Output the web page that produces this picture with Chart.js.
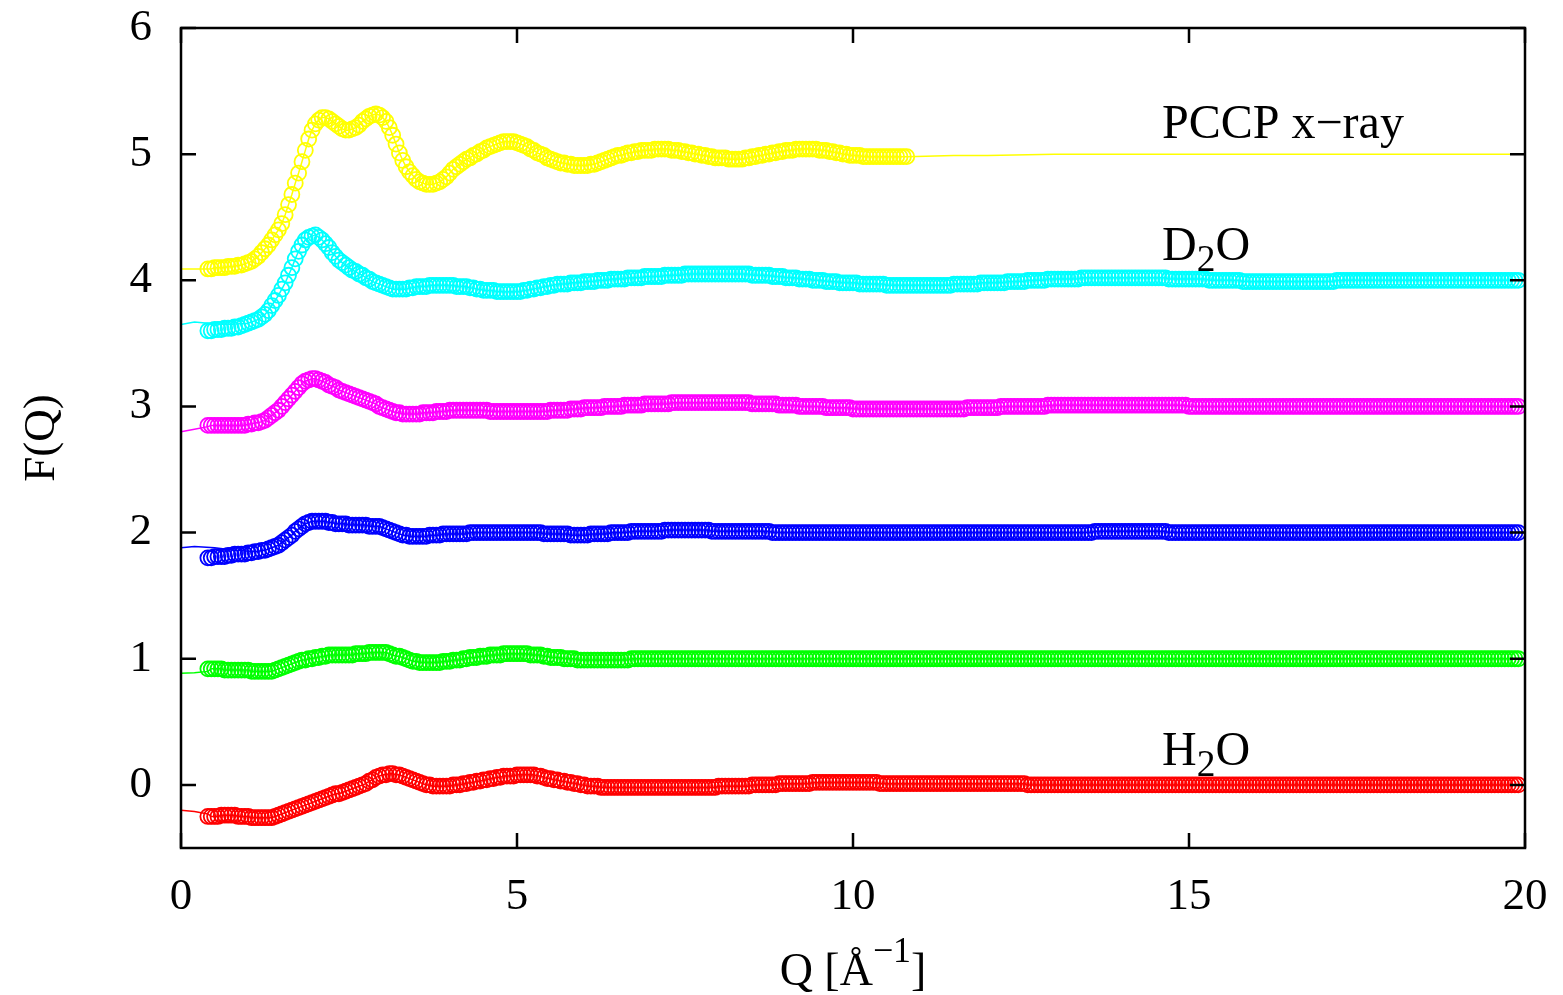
<!DOCTYPE html>
<html>
<head>
<meta charset="utf-8">
<title>F(Q)</title>
<script src="https://cdn.jsdelivr.net/npm/chart.js@4.4.1/dist/chart.umd.min.js"></script>
<style>
  html, body { margin: 0; padding: 0; background: #fff; }
  #wrap { width: 1563px; height: 995px; position: relative; }
</style>
</head>
<body>
<div id="wrap"><canvas id="fq"></canvas></div>
<script>
// Q grid of the measured points [1/Angstrom], step 0.05
const qGrid = [
  0.40, 0.45, 0.50, 0.55, 0.60, 0.65, 0.70, 0.75, 0.80, 0.85, 0.90, 0.95, 1.00, 1.05, 1.10, 1.15, 1.20, 1.25, 1.30, 1.35,
  1.40, 1.45, 1.50, 1.55, 1.60, 1.65, 1.70, 1.75, 1.80, 1.85, 1.90, 1.95, 2.00, 2.05, 2.10, 2.15, 2.20, 2.25, 2.30, 2.35,
  2.40, 2.45, 2.50, 2.55, 2.60, 2.65, 2.70, 2.75, 2.80, 2.85, 2.90, 2.95, 3.00, 3.05, 3.10, 3.15, 3.20, 3.25, 3.30, 3.35,
  3.40, 3.45, 3.50, 3.55, 3.60, 3.65, 3.70, 3.75, 3.80, 3.85, 3.90, 3.95, 4.00, 4.05, 4.10, 4.15, 4.20, 4.25, 4.30, 4.35,
  4.40, 4.45, 4.50, 4.55, 4.60, 4.65, 4.70, 4.75, 4.80, 4.85, 4.90, 4.95, 5.00, 5.05, 5.10, 5.15, 5.20, 5.25, 5.30, 5.35,
  5.40, 5.45, 5.50, 5.55, 5.60, 5.65, 5.70, 5.75, 5.80, 5.85, 5.90, 5.95, 6.00, 6.05, 6.10, 6.15, 6.20, 6.25, 6.30, 6.35,
  6.40, 6.45, 6.50, 6.55, 6.60, 6.65, 6.70, 6.75, 6.80, 6.85, 6.90, 6.95, 7.00, 7.05, 7.10, 7.15, 7.20, 7.25, 7.30, 7.35,
  7.40, 7.45, 7.50, 7.55, 7.60, 7.65, 7.70, 7.75, 7.80, 7.85, 7.90, 7.95, 8.00, 8.05, 8.10, 8.15, 8.20, 8.25, 8.30, 8.35,
  8.40, 8.45, 8.50, 8.55, 8.60, 8.65, 8.70, 8.75, 8.80, 8.85, 8.90, 8.95, 9.00, 9.05, 9.10, 9.15, 9.20, 9.25, 9.30, 9.35,
  9.40, 9.45, 9.50, 9.55, 9.60, 9.65, 9.70, 9.75, 9.80, 9.85, 9.90, 9.95, 10.00, 10.05, 10.10, 10.15, 10.20, 10.25, 10.30, 10.35,
  10.40, 10.45, 10.50, 10.55, 10.60, 10.65, 10.70, 10.75, 10.80, 10.85, 10.90, 10.95, 11.00, 11.05, 11.10, 11.15, 11.20, 11.25, 11.30, 11.35,
  11.40, 11.45, 11.50, 11.55, 11.60, 11.65, 11.70, 11.75, 11.80, 11.85, 11.90, 11.95, 12.00, 12.05, 12.10, 12.15, 12.20, 12.25, 12.30, 12.35,
  12.40, 12.45, 12.50, 12.55, 12.60, 12.65, 12.70, 12.75, 12.80, 12.85, 12.90, 12.95, 13.00, 13.05, 13.10, 13.15, 13.20, 13.25, 13.30, 13.35,
  13.40, 13.45, 13.50, 13.55, 13.60, 13.65, 13.70, 13.75, 13.80, 13.85, 13.90, 13.95, 14.00, 14.05, 14.10, 14.15, 14.20, 14.25, 14.30, 14.35,
  14.40, 14.45, 14.50, 14.55, 14.60, 14.65, 14.70, 14.75, 14.80, 14.85, 14.90, 14.95, 15.00, 15.05, 15.10, 15.15, 15.20, 15.25, 15.30, 15.35,
  15.40, 15.45, 15.50, 15.55, 15.60, 15.65, 15.70, 15.75, 15.80, 15.85, 15.90, 15.95, 16.00, 16.05, 16.10, 16.15, 16.20, 16.25, 16.30, 16.35,
  16.40, 16.45, 16.50, 16.55, 16.60, 16.65, 16.70, 16.75, 16.80, 16.85, 16.90, 16.95, 17.00, 17.05, 17.10, 17.15, 17.20, 17.25, 17.30, 17.35,
  17.40, 17.45, 17.50, 17.55, 17.60, 17.65, 17.70, 17.75, 17.80, 17.85, 17.90, 17.95, 18.00, 18.05, 18.10, 18.15, 18.20, 18.25, 18.30, 18.35,
  18.40, 18.45, 18.50, 18.55, 18.60, 18.65, 18.70, 18.75, 18.80, 18.85, 18.90, 18.95, 19.00, 19.05, 19.10, 19.15, 19.20, 19.25, 19.30, 19.35,
  19.40, 19.45, 19.50, 19.55, 19.60, 19.65, 19.70, 19.75, 19.80, 19.85, 19.90
];

// PCCP x-ray data (offset +4), stops at Q = 10.8
const fXray = [
  4.09, 4.09, 4.10, 4.10, 4.10, 4.10, 4.11, 4.11, 4.11, 4.12, 4.12, 4.13, 4.14, 4.15, 4.17, 4.19, 4.22, 4.25, 4.28, 4.32,
  4.36, 4.40, 4.45, 4.52, 4.60, 4.68, 4.77, 4.85, 4.94, 5.03, 5.12, 5.19, 5.24, 5.27, 5.29, 5.29, 5.28, 5.26, 5.24, 5.22,
  5.20, 5.19, 5.19, 5.20, 5.21, 5.23, 5.26, 5.28, 5.30, 5.31, 5.32, 5.31, 5.29, 5.26, 5.21, 5.15, 5.08, 5.01, 4.95, 4.90,
  4.86, 4.83, 4.80, 4.78, 4.77, 4.76, 4.76, 4.76, 4.77, 4.78, 4.80, 4.82, 4.85, 4.88, 4.90, 4.92, 4.94, 4.96, 4.97, 4.99,
  5.00, 5.02, 5.03, 5.05, 5.06, 5.07, 5.08, 5.09, 5.10, 5.10, 5.10, 5.10, 5.09, 5.08, 5.07, 5.06, 5.04, 5.03, 5.01, 5.00,
  4.99, 4.97, 4.96, 4.95, 4.94, 4.93, 4.93, 4.92, 4.92, 4.91, 4.91, 4.91, 4.91, 4.91, 4.92, 4.92, 4.93, 4.94, 4.95, 4.96,
  4.97, 4.98, 4.99, 4.99, 5.00, 5.01, 5.01, 5.02, 5.02, 5.03, 5.03, 5.03, 5.03, 5.04, 5.04, 5.04, 5.04, 5.04, 5.03, 5.03,
  5.03, 5.02, 5.02, 5.01, 5.01, 5.00, 5.00, 4.99, 4.99, 4.98, 4.98, 4.97, 4.97, 4.97, 4.97, 4.96, 4.96, 4.96, 4.96, 4.96,
  4.97, 4.97, 4.98, 4.98, 4.99, 4.99, 5.00, 5.00, 5.01, 5.01, 5.02, 5.02, 5.03, 5.03, 5.03, 5.04, 5.04, 5.04, 5.04, 5.04,
  5.04, 5.04, 5.03, 5.03, 5.03, 5.02, 5.02, 5.01, 5.01, 5.00, 5.00, 4.99, 4.99, 4.99, 4.99, 4.98, 4.98, 4.98, 4.98, 4.98,
  4.98, 4.98, 4.98, 4.98, 4.98, 4.98, 4.98, 4.98, 4.98
];

// D2O (offset +4)
const fD2O = [
  3.60, 3.60, 3.61, 3.61, 3.61, 3.62, 3.62, 3.62, 3.63, 3.63, 3.64, 3.65, 3.66, 3.67, 3.68, 3.69, 3.71, 3.73, 3.76, 3.80,
  3.84, 3.88, 3.93, 3.98, 4.04, 4.10, 4.17, 4.23, 4.28, 4.32, 4.34, 4.35, 4.36, 4.34, 4.32, 4.29, 4.26, 4.22, 4.19, 4.16,
  4.14, 4.12, 4.10, 4.08, 4.07, 4.05, 4.04, 4.02, 4.01, 3.99, 3.98, 3.97, 3.96, 3.95, 3.94, 3.93, 3.93, 3.93, 3.93, 3.93,
  3.94, 3.94, 3.95, 3.95, 3.95, 3.95, 3.96, 3.96, 3.96, 3.96, 3.96, 3.96, 3.96, 3.96, 3.95, 3.95, 3.95, 3.95, 3.94, 3.94,
  3.93, 3.93, 3.92, 3.92, 3.92, 3.92, 3.91, 3.91, 3.91, 3.91, 3.91, 3.91, 3.91, 3.91, 3.92, 3.92, 3.93, 3.93, 3.94, 3.94,
  3.95, 3.95, 3.96, 3.96, 3.97, 3.97, 3.97, 3.97, 3.98, 3.98, 3.98, 3.98, 3.99, 3.99, 3.99, 3.99, 4.00, 4.00, 4.00, 4.00,
  4.01, 4.01, 4.01, 4.01, 4.01, 4.02, 4.02, 4.02, 4.02, 4.02, 4.03, 4.03, 4.03, 4.03, 4.03, 4.03, 4.04, 4.04, 4.04, 4.04,
  4.04, 4.04, 4.05, 4.05, 4.05, 4.05, 4.05, 4.05, 4.05, 4.05, 4.05, 4.05, 4.05, 4.05, 4.05, 4.05, 4.05, 4.05, 4.05, 4.05,
  4.05, 4.05, 4.04, 4.04, 4.04, 4.04, 4.04, 4.04, 4.03, 4.03, 4.03, 4.03, 4.02, 4.02, 4.02, 4.02, 4.01, 4.01, 4.01, 4.01,
  4.00, 4.00, 4.00, 4.00, 3.99, 3.99, 3.99, 3.99, 3.98, 3.98, 3.98, 3.98, 3.98, 3.98, 3.97, 3.97, 3.97, 3.97, 3.97, 3.97,
  3.97, 3.97, 3.96, 3.96, 3.96, 3.96, 3.96, 3.96, 3.96, 3.96, 3.96, 3.96, 3.96, 3.96, 3.96, 3.96, 3.96, 3.96, 3.96, 3.96,
  3.96, 3.96, 3.97, 3.97, 3.97, 3.97, 3.97, 3.97, 3.97, 3.97, 3.98, 3.98, 3.98, 3.98, 3.98, 3.98, 3.98, 3.98, 3.99, 3.99,
  3.99, 3.99, 3.99, 3.99, 4.00, 4.00, 4.00, 4.00, 4.00, 4.00, 4.01, 4.01, 4.01, 4.01, 4.01, 4.01, 4.01, 4.01, 4.01, 4.01,
  4.02, 4.02, 4.02, 4.02, 4.02, 4.02, 4.02, 4.02, 4.02, 4.02, 4.02, 4.02, 4.02, 4.02, 4.02, 4.02, 4.02, 4.02, 4.02, 4.02,
  4.02, 4.02, 4.02, 4.02, 4.02, 4.02, 4.01, 4.01, 4.01, 4.01, 4.01, 4.01, 4.01, 4.01, 4.01, 4.01, 4.01, 4.01, 4.00, 4.00,
  4.00, 4.00, 4.00, 4.00, 4.00, 4.00, 4.00, 4.00, 3.99, 3.99, 3.99, 3.99, 3.99, 3.99, 3.99, 3.99, 3.99, 3.99, 3.99, 3.99,
  3.99, 3.99, 3.99, 3.99, 3.99, 3.99, 3.99, 3.99, 3.99, 3.99, 3.99, 3.99, 3.99, 3.99, 3.99, 3.99, 4.00, 4.00, 4.00, 4.00,
  4.00, 4.00, 4.00, 4.00, 4.00, 4.00, 4.00, 4.00, 4.00, 4.00, 4.00, 4.00, 4.00, 4.00, 4.00, 4.00, 4.00, 4.00, 4.00, 4.00,
  4.00, 4.00, 4.00, 4.00, 4.00, 4.00, 4.00, 4.00, 4.00, 4.00, 4.00, 4.00, 4.00, 4.00, 4.00, 4.00, 4.00, 4.00, 4.00, 4.00,
  4.00, 4.00, 4.00, 4.00, 4.00, 4.00, 4.00, 4.00, 4.00, 4.00, 4.00
];

// mixture, offset +3
const fMix3 = [
  2.85, 2.85, 2.85, 2.85, 2.85, 2.85, 2.85, 2.85, 2.85, 2.85, 2.85, 2.85, 2.86, 2.86, 2.87, 2.87, 2.88, 2.89, 2.91, 2.93,
  2.95, 2.97, 3.00, 3.03, 3.06, 3.09, 3.12, 3.15, 3.18, 3.20, 3.21, 3.22, 3.22, 3.21, 3.20, 3.19, 3.17, 3.16, 3.15, 3.13,
  3.12, 3.11, 3.10, 3.09, 3.08, 3.07, 3.06, 3.05, 3.04, 3.03, 3.02, 3.00, 2.99, 2.98, 2.97, 2.96, 2.95, 2.95, 2.94, 2.94,
  2.94, 2.94, 2.94, 2.94, 2.95, 2.95, 2.95, 2.95, 2.96, 2.96, 2.96, 2.96, 2.97, 2.97, 2.97, 2.97, 2.97, 2.97, 2.97, 2.97,
  2.97, 2.97, 2.97, 2.97, 2.96, 2.96, 2.96, 2.96, 2.96, 2.96, 2.96, 2.96, 2.96, 2.96, 2.96, 2.96, 2.96, 2.96, 2.96, 2.96,
  2.96, 2.96, 2.97, 2.97, 2.97, 2.97, 2.97, 2.97, 2.98, 2.98, 2.98, 2.98, 2.99, 2.99, 2.99, 2.99, 2.99, 2.99, 3.00, 3.00,
  3.00, 3.00, 3.00, 3.00, 3.01, 3.01, 3.01, 3.01, 3.01, 3.01, 3.02, 3.02, 3.02, 3.02, 3.02, 3.02, 3.02, 3.02, 3.03, 3.03,
  3.03, 3.03, 3.03, 3.03, 3.03, 3.03, 3.03, 3.03, 3.03, 3.03, 3.03, 3.03, 3.03, 3.03, 3.03, 3.03, 3.03, 3.03, 3.03, 3.03,
  3.03, 3.03, 3.02, 3.02, 3.02, 3.02, 3.02, 3.02, 3.02, 3.02, 3.01, 3.01, 3.01, 3.01, 3.01, 3.01, 3.00, 3.00, 3.00, 3.00,
  3.00, 3.00, 3.00, 3.00, 2.99, 2.99, 2.99, 2.99, 2.99, 2.99, 2.99, 2.99, 2.98, 2.98, 2.98, 2.98, 2.98, 2.98, 2.98, 2.98,
  2.98, 2.98, 2.98, 2.98, 2.98, 2.98, 2.98, 2.98, 2.98, 2.98, 2.98, 2.98, 2.98, 2.98, 2.98, 2.98, 2.98, 2.98, 2.98, 2.98,
  2.98, 2.98, 2.98, 2.98, 2.98, 2.98, 2.99, 2.99, 2.99, 2.99, 2.99, 2.99, 2.99, 2.99, 2.99, 2.99, 3.00, 3.00, 3.00, 3.00,
  3.00, 3.00, 3.00, 3.00, 3.00, 3.00, 3.00, 3.00, 3.00, 3.00, 3.01, 3.01, 3.01, 3.01, 3.01, 3.01, 3.01, 3.01, 3.01, 3.01,
  3.01, 3.01, 3.01, 3.01, 3.01, 3.01, 3.01, 3.01, 3.01, 3.01, 3.01, 3.01, 3.01, 3.01, 3.01, 3.01, 3.01, 3.01, 3.01, 3.01,
  3.01, 3.01, 3.01, 3.01, 3.01, 3.01, 3.01, 3.01, 3.01, 3.01, 3.01, 3.01, 3.00, 3.00, 3.00, 3.00, 3.00, 3.00, 3.00, 3.00,
  3.00, 3.00, 3.00, 3.00, 3.00, 3.00, 3.00, 3.00, 3.00, 3.00, 3.00, 3.00, 3.00, 3.00, 3.00, 3.00, 3.00, 3.00, 3.00, 3.00,
  3.00, 3.00, 3.00, 3.00, 3.00, 3.00, 3.00, 3.00, 3.00, 3.00, 3.00, 3.00, 3.00, 3.00, 3.00, 3.00, 3.00, 3.00, 3.00, 3.00,
  3.00, 3.00, 3.00, 3.00, 3.00, 3.00, 3.00, 3.00, 3.00, 3.00, 3.00, 3.00, 3.00, 3.00, 3.00, 3.00, 3.00, 3.00, 3.00, 3.00,
  3.00, 3.00, 3.00, 3.00, 3.00, 3.00, 3.00, 3.00, 3.00, 3.00, 3.00, 3.00, 3.00, 3.00, 3.00, 3.00, 3.00, 3.00, 3.00, 3.00,
  3.00, 3.00, 3.00, 3.00, 3.00, 3.00, 3.00, 3.00, 3.00, 3.00, 3.00
];

// mixture, offset +2
const fMix2 = [
  1.80, 1.80, 1.81, 1.81, 1.81, 1.81, 1.82, 1.82, 1.83, 1.83, 1.83, 1.83, 1.84, 1.84, 1.85, 1.85, 1.86, 1.86, 1.87, 1.88,
  1.89, 1.90, 1.92, 1.94, 1.96, 1.98, 2.01, 2.03, 2.05, 2.07, 2.08, 2.09, 2.09, 2.09, 2.09, 2.09, 2.08, 2.08, 2.07, 2.07,
  2.07, 2.07, 2.06, 2.06, 2.06, 2.06, 2.06, 2.06, 2.05, 2.05, 2.05, 2.05, 2.04, 2.03, 2.02, 2.01, 2.00, 1.99, 1.98, 1.98,
  1.97, 1.97, 1.97, 1.97, 1.97, 1.97, 1.98, 1.98, 1.98, 1.98, 1.99, 1.99, 1.99, 1.99, 1.99, 1.99, 1.99, 1.99, 2.00, 2.00,
  2.00, 2.00, 2.00, 2.00, 2.00, 2.00, 2.00, 2.00, 2.00, 2.00, 2.00, 2.00, 2.00, 2.00, 2.00, 2.00, 2.00, 2.00, 2.00, 2.00,
  1.99, 1.99, 1.99, 1.99, 1.99, 1.99, 1.99, 1.99, 1.98, 1.98, 1.98, 1.98, 1.98, 1.98, 1.99, 1.99, 1.99, 1.99, 1.99, 1.99,
  2.00, 2.00, 2.00, 2.00, 2.00, 2.00, 2.01, 2.01, 2.01, 2.01, 2.01, 2.01, 2.01, 2.01, 2.01, 2.01, 2.02, 2.02, 2.02, 2.02,
  2.02, 2.02, 2.02, 2.02, 2.02, 2.02, 2.02, 2.02, 2.02, 2.02, 2.01, 2.01, 2.01, 2.01, 2.01, 2.01, 2.01, 2.01, 2.01, 2.01,
  2.01, 2.01, 2.01, 2.01, 2.01, 2.01, 2.01, 2.01, 2.00, 2.00, 2.00, 2.00, 2.00, 2.00, 2.00, 2.00, 2.00, 2.00, 2.00, 2.00,
  2.00, 2.00, 2.00, 2.00, 2.00, 2.00, 2.00, 2.00, 2.00, 2.00, 2.00, 2.00, 2.00, 2.00, 2.00, 2.00, 2.00, 2.00, 2.00, 2.00,
  2.00, 2.00, 2.00, 2.00, 2.00, 2.00, 2.00, 2.00, 2.00, 2.00, 2.00, 2.00, 2.00, 2.00, 2.00, 2.00, 2.00, 2.00, 2.00, 2.00,
  2.00, 2.00, 2.00, 2.00, 2.00, 2.00, 2.00, 2.00, 2.00, 2.00, 2.00, 2.00, 2.00, 2.00, 2.00, 2.00, 2.00, 2.00, 2.00, 2.00,
  2.00, 2.00, 2.00, 2.00, 2.00, 2.00, 2.00, 2.00, 2.00, 2.00, 2.00, 2.00, 2.00, 2.00, 2.00, 2.00, 2.00, 2.00, 2.00, 2.00,
  2.00, 2.00, 2.00, 2.00, 2.01, 2.01, 2.01, 2.01, 2.01, 2.01, 2.01, 2.01, 2.01, 2.01, 2.01, 2.01, 2.01, 2.01, 2.01, 2.01,
  2.01, 2.01, 2.01, 2.01, 2.01, 2.01, 2.00, 2.00, 2.00, 2.00, 2.00, 2.00, 2.00, 2.00, 2.00, 2.00, 2.00, 2.00, 2.00, 2.00,
  2.00, 2.00, 2.00, 2.00, 2.00, 2.00, 2.00, 2.00, 2.00, 2.00, 2.00, 2.00, 2.00, 2.00, 2.00, 2.00, 2.00, 2.00, 2.00, 2.00,
  2.00, 2.00, 2.00, 2.00, 2.00, 2.00, 2.00, 2.00, 2.00, 2.00, 2.00, 2.00, 2.00, 2.00, 2.00, 2.00, 2.00, 2.00, 2.00, 2.00,
  2.00, 2.00, 2.00, 2.00, 2.00, 2.00, 2.00, 2.00, 2.00, 2.00, 2.00, 2.00, 2.00, 2.00, 2.00, 2.00, 2.00, 2.00, 2.00, 2.00,
  2.00, 2.00, 2.00, 2.00, 2.00, 2.00, 2.00, 2.00, 2.00, 2.00, 2.00, 2.00, 2.00, 2.00, 2.00, 2.00, 2.00, 2.00, 2.00, 2.00,
  2.00, 2.00, 2.00, 2.00, 2.00, 2.00, 2.00, 2.00, 2.00, 2.00, 2.00
];

// mixture, offset +1
const fMix1 = [
  0.92, 0.92, 0.92, 0.92, 0.92, 0.91, 0.91, 0.91, 0.91, 0.91, 0.91, 0.91, 0.91, 0.90, 0.90, 0.90, 0.90, 0.90, 0.90, 0.90,
  0.91, 0.92, 0.93, 0.94, 0.95, 0.96, 0.97, 0.98, 0.99, 0.99, 1.00, 1.00, 1.01, 1.01, 1.02, 1.02, 1.03, 1.03, 1.03, 1.03,
  1.03, 1.03, 1.03, 1.03, 1.04, 1.04, 1.04, 1.04, 1.05, 1.05, 1.05, 1.05, 1.05, 1.05, 1.04, 1.03, 1.02, 1.02, 1.01, 1.00,
  0.99, 0.98, 0.98, 0.97, 0.97, 0.97, 0.97, 0.97, 0.97, 0.97, 0.98, 0.98, 0.98, 0.99, 0.99, 0.99, 1.00, 1.00, 1.01, 1.01,
  1.01, 1.02, 1.02, 1.02, 1.03, 1.03, 1.03, 1.03, 1.04, 1.04, 1.04, 1.04, 1.04, 1.04, 1.04, 1.04, 1.03, 1.03, 1.03, 1.03,
  1.02, 1.02, 1.01, 1.01, 1.01, 1.01, 1.00, 1.00, 1.00, 1.00, 0.99, 0.99, 0.99, 0.99, 0.99, 0.99, 0.99, 0.99, 0.99, 0.99,
  0.99, 0.99, 0.99, 0.99, 0.99, 0.99, 1.00, 1.00, 1.00, 1.00, 1.00, 1.00, 1.00, 1.00, 1.00, 1.00, 1.00, 1.00, 1.00, 1.00,
  1.00, 1.00, 1.00, 1.00, 1.00, 1.00, 1.00, 1.00, 1.00, 1.00, 1.00, 1.00, 1.00, 1.00, 1.00, 1.00, 1.00, 1.00, 1.00, 1.00,
  1.00, 1.00, 1.00, 1.00, 1.00, 1.00, 1.00, 1.00, 1.00, 1.00, 1.00, 1.00, 1.00, 1.00, 1.00, 1.00, 1.00, 1.00, 1.00, 1.00,
  1.00, 1.00, 1.00, 1.00, 1.00, 1.00, 1.00, 1.00, 1.00, 1.00, 1.00, 1.00, 1.00, 1.00, 1.00, 1.00, 1.00, 1.00, 1.00, 1.00,
  1.00, 1.00, 1.00, 1.00, 1.00, 1.00, 1.00, 1.00, 1.00, 1.00, 1.00, 1.00, 1.00, 1.00, 1.00, 1.00, 1.00, 1.00, 1.00, 1.00,
  1.00, 1.00, 1.00, 1.00, 1.00, 1.00, 1.00, 1.00, 1.00, 1.00, 1.00, 1.00, 1.00, 1.00, 1.00, 1.00, 1.00, 1.00, 1.00, 1.00,
  1.00, 1.00, 1.00, 1.00, 1.00, 1.00, 1.00, 1.00, 1.00, 1.00, 1.00, 1.00, 1.00, 1.00, 1.00, 1.00, 1.00, 1.00, 1.00, 1.00,
  1.00, 1.00, 1.00, 1.00, 1.00, 1.00, 1.00, 1.00, 1.00, 1.00, 1.00, 1.00, 1.00, 1.00, 1.00, 1.00, 1.00, 1.00, 1.00, 1.00,
  1.00, 1.00, 1.00, 1.00, 1.00, 1.00, 1.00, 1.00, 1.00, 1.00, 1.00, 1.00, 1.00, 1.00, 1.00, 1.00, 1.00, 1.00, 1.00, 1.00,
  1.00, 1.00, 1.00, 1.00, 1.00, 1.00, 1.00, 1.00, 1.00, 1.00, 1.00, 1.00, 1.00, 1.00, 1.00, 1.00, 1.00, 1.00, 1.00, 1.00,
  1.00, 1.00, 1.00, 1.00, 1.00, 1.00, 1.00, 1.00, 1.00, 1.00, 1.00, 1.00, 1.00, 1.00, 1.00, 1.00, 1.00, 1.00, 1.00, 1.00,
  1.00, 1.00, 1.00, 1.00, 1.00, 1.00, 1.00, 1.00, 1.00, 1.00, 1.00, 1.00, 1.00, 1.00, 1.00, 1.00, 1.00, 1.00, 1.00, 1.00,
  1.00, 1.00, 1.00, 1.00, 1.00, 1.00, 1.00, 1.00, 1.00, 1.00, 1.00, 1.00, 1.00, 1.00, 1.00, 1.00, 1.00, 1.00, 1.00, 1.00,
  1.00, 1.00, 1.00, 1.00, 1.00, 1.00, 1.00, 1.00, 1.00, 1.00, 1.00
];

// H2O, no offset
const fH2O = [
  -0.25, -0.25, -0.25, -0.25, -0.24, -0.24, -0.24, -0.24, -0.24, -0.25, -0.25, -0.25, -0.25, -0.26, -0.26, -0.26, -0.26, -0.26, -0.26, -0.26,
  -0.25, -0.24, -0.23, -0.22, -0.21, -0.20, -0.19, -0.18, -0.17, -0.16, -0.15, -0.14, -0.13, -0.12, -0.11, -0.10, -0.09, -0.08, -0.07, -0.07,
  -0.06, -0.05, -0.04, -0.03, -0.02, -0.01, 0.00, 0.01, 0.03, 0.04, 0.06, 0.07, 0.08, 0.08, 0.09, 0.09, 0.08, 0.08, 0.07, 0.06,
  0.05, 0.04, 0.03, 0.02, 0.01, 0.00, 0.00, -0.01, -0.01, -0.01, -0.01, -0.01, -0.01, 0.00, 0.00, 0.00, 0.01, 0.01, 0.02, 0.02,
  0.03, 0.03, 0.04, 0.04, 0.05, 0.05, 0.06, 0.06, 0.07, 0.07, 0.07, 0.07, 0.08, 0.08, 0.08, 0.08, 0.08, 0.08, 0.07, 0.07,
  0.06, 0.05, 0.05, 0.04, 0.04, 0.03, 0.03, 0.02, 0.02, 0.01, 0.01, 0.00, 0.00, -0.01, -0.01, -0.01, -0.01, -0.02, -0.02, -0.02,
  -0.02, -0.02, -0.02, -0.02, -0.02, -0.02, -0.02, -0.02, -0.02, -0.02, -0.02, -0.02, -0.02, -0.02, -0.02, -0.02, -0.02, -0.02, -0.02, -0.02,
  -0.02, -0.02, -0.02, -0.02, -0.02, -0.02, -0.02, -0.02, -0.02, -0.02, -0.02, -0.02, -0.01, -0.01, -0.01, -0.01, -0.01, -0.01, -0.01, -0.01,
  -0.01, -0.01, 0.00, 0.00, 0.00, 0.00, 0.00, 0.00, 0.00, 0.00, 0.01, 0.01, 0.01, 0.01, 0.01, 0.01, 0.01, 0.01, 0.01, 0.01,
  0.02, 0.02, 0.02, 0.02, 0.02, 0.02, 0.02, 0.02, 0.02, 0.02, 0.02, 0.02, 0.02, 0.02, 0.02, 0.02, 0.02, 0.02, 0.02, 0.02,
  0.01, 0.01, 0.01, 0.01, 0.01, 0.01, 0.01, 0.01, 0.01, 0.01, 0.01, 0.01, 0.01, 0.01, 0.01, 0.01, 0.01, 0.01, 0.01, 0.01,
  0.01, 0.01, 0.01, 0.01, 0.01, 0.01, 0.01, 0.01, 0.01, 0.01, 0.01, 0.01, 0.01, 0.01, 0.01, 0.01, 0.01, 0.01, 0.01, 0.01,
  0.01, 0.01, 0.01, 0.01, 0.00, 0.00, 0.00, 0.00, 0.00, 0.00, 0.00, 0.00, 0.00, 0.00, 0.00, 0.00, 0.00, 0.00, 0.00, 0.00,
  0.00, 0.00, 0.00, 0.00, 0.00, 0.00, 0.00, 0.00, 0.00, 0.00, 0.00, 0.00, 0.00, 0.00, 0.00, 0.00, 0.00, 0.00, 0.00, 0.00,
  0.00, 0.00, 0.00, 0.00, 0.00, 0.00, 0.00, 0.00, 0.00, 0.00, 0.00, 0.00, 0.00, 0.00, 0.00, 0.00, 0.00, 0.00, 0.00, 0.00,
  0.00, 0.00, 0.00, 0.00, 0.00, 0.00, 0.00, 0.00, 0.00, 0.00, 0.00, 0.00, 0.00, 0.00, 0.00, 0.00, 0.00, 0.00, 0.00, 0.00,
  0.00, 0.00, 0.00, 0.00, 0.00, 0.00, 0.00, 0.00, 0.00, 0.00, 0.00, 0.00, 0.00, 0.00, 0.00, 0.00, 0.00, 0.00, 0.00, 0.00,
  0.00, 0.00, 0.00, 0.00, 0.00, 0.00, 0.00, 0.00, 0.00, 0.00, 0.00, 0.00, 0.00, 0.00, 0.00, 0.00, 0.00, 0.00, 0.00, 0.00,
  0.00, 0.00, 0.00, 0.00, 0.00, 0.00, 0.00, 0.00, 0.00, 0.00, 0.00, 0.00, 0.00, 0.00, 0.00, 0.00, 0.00, 0.00, 0.00, 0.00,
  0.00, 0.00, 0.00, 0.00, 0.00, 0.00, 0.00, 0.00, 0.00, 0.00, 0.00
];

// model curves at low Q, before they run under the measured points
const headXrayQ = [0.0, 0.2];
const headXrayF = [4.09, 4.09];
const headD2OQ = [0.0, 0.2, 0.4, 0.7, 1.0];
const headD2OF = [3.65, 3.67, 3.66, 3.65, 3.66];
const headMix3Q = [0.0, 0.2, 0.4];
const headMix3F = [2.80, 2.82, 2.84];
const headMix2Q = [0.0, 0.2, 0.5, 0.8, 1.1];
const headMix2F = [1.88, 1.89, 1.88, 1.86, 1.85];
const headMix1Q = [0.0, 0.2, 0.4];
const headMix1F = [0.885, 0.89, 0.90];
const headH2OQ = [0.0, 0.2, 0.4];
const headH2OF = [-0.20, -0.21, -0.23];

// x-ray model continues past the end of the data
const tailXrayQ = [11.5, 12.0, 13.0, 14.0, 15.0, 16.0, 17.0, 18.0, 19.0, 20.0];
const tailXrayF = [4.99, 4.99, 5.00, 5.00, 5.00, 5.00, 5.00, 5.00, 5.00, 5.00];

const xTicks = [0, 5, 10, 15, 20];
const yTicks = [0, 1, 2, 3, 4, 5, 6];

const FONT = "'Liberation Serif', 'Times New Roman', serif";

function pts(qs, fs) {
    return fs.map((f, i) => ({ x: qs[i], y: f }));
}

function series(color, fs, headQ, headF, tailQ, tailF) {
    const data = pts(qGrid, fs);
    const lastHead = headQ[headQ.length - 1];
    let model = pts(headQ, headF).concat(data.filter(p => p.x > lastHead));
    if (tailQ) model = model.concat(pts(tailQ, tailF));
    else model.push({ x: 20, y: fs[fs.length - 1] });
    return [
        {
            type: 'scatter', data, order: 2,
            showLine: false,
            pointStyle: 'circle', pointRadius: 7.5, pointHoverRadius: 7.5,
            pointBorderWidth: 1.8, pointBorderColor: color,
            pointBackgroundColor: 'rgba(0,0,0,0)'
        },
        {
            type: 'line', data: model, order: 1,
            borderColor: color, borderWidth: 1.5,
            pointRadius: 0, fill: false, tension: 0
        }
    ];
}

const datasets = [
    ...series('#ffff00', fXray, headXrayQ, headXrayF, tailXrayQ, tailXrayF),
    ...series('#00ffff', fD2O, headD2OQ, headD2OF),
    ...series('#ff00ff', fMix3, headMix3Q, headMix3F),
    ...series('#0000ff', fMix2, headMix2Q, headMix2F),
    ...series('#00ff00', fMix1, headMix1Q, headMix1F),
    ...series('#ff0000', fH2O, headH2OQ, headH2OF)
];

// text with sub/superscripts, drawn left to right from baseline (x, y)
function richText(ctx, parts, x, y, size) {
    let cx = x;
    parts.forEach(p => {
        const s = p.sub || p.sup ? size * 0.78 : size;
        ctx.font = s + 'px ' + FONT;
        const dy = p.sub ? size * 0.23 : (p.sup ? -size * 0.5 : 0);
        ctx.fillText(p.t, cx, y + dy);
        cx += ctx.measureText(p.t).width;
    });
    return cx - x;
}

function richWidth(ctx, parts, size) {
    let w = 0;
    parts.forEach(p => {
        const s = p.sub || p.sup ? size * 0.78 : size;
        ctx.font = s + 'px ' + FONT;
        w += ctx.measureText(p.t).width;
    });
    return w;
}

const framePlugin = {
    id: 'frame',
    afterDatasetsDraw(chart) {
        const { ctx, chartArea: a, scales: { x, y } } = chart;
        ctx.save();
        ctx.strokeStyle = '#000';
        ctx.lineWidth = 2.5;
        ctx.strokeRect(a.left, a.top, a.right - a.left, a.bottom - a.top);
        const tl = 15;
        ctx.beginPath();
        xTicks.forEach(v => {
            const px = x.getPixelForValue(v);
            ctx.moveTo(px, a.bottom); ctx.lineTo(px, a.bottom - tl);
            ctx.moveTo(px, a.top); ctx.lineTo(px, a.top + tl);
        });
        yTicks.forEach(v => {
            const py = y.getPixelForValue(v);
            ctx.moveTo(a.left, py); ctx.lineTo(a.left + tl, py);
            ctx.moveTo(a.right, py); ctx.lineTo(a.right - tl, py);
        });
        ctx.stroke();
        ctx.restore();
    },
    afterDraw(chart) {
        const { ctx, scales: { x, y } } = chart;
        ctx.save();
        ctx.fillStyle = '#000';
        ctx.textBaseline = 'alphabetic';
        ctx.textAlign = 'left';
        const lx = x.getPixelForValue(14.6);
        richText(ctx, [{ t: 'PCCP x\u2212ray' }], lx, y.getPixelForValue(5.13), 48);
        richText(ctx, [{ t: 'D' }, { t: '2', sub: true }, { t: 'O' }], lx, y.getPixelForValue(4.16), 48);
        richText(ctx, [{ t: 'H' }, { t: '2', sub: true }, { t: 'O' }], lx, y.getPixelForValue(0.16), 48);

        // x axis title
        const title = [{ t: 'Q [\u00c5' }, { t: '\u22121', sup: true }, { t: ']' }];
        const w = richWidth(ctx, title, 46);
        richText(ctx, title, x.getPixelForValue(10) - w / 2, 985, 46);
        ctx.restore();
    }
};

new Chart(document.getElementById('fq'), {
    data: { datasets },
    plugins: [framePlugin],
    options: {
        responsive: true,
        maintainAspectRatio: false,
        animation: false,
        events: [],
        layout: { padding: { top: 28, right: 38, left: 0, bottom: 0 } },
        plugins: { legend: { display: false }, tooltip: { enabled: false } },
        scales: {
            x: {
                type: 'linear', min: 0, max: 20,
                grid: { display: false, drawTicks: false },
                border: { display: false },
                afterBuildTicks: s => { s.ticks = xTicks.map(v => ({ value: v })); },
                afterFit: s => { s.height = 147; s.paddingLeft = 0; s.paddingRight = 0; },
                ticks: { color: '#000', padding: 22, font: { family: FONT, size: 45 } }
            },
            y: {
                type: 'linear', min: -0.5, max: 6,
                grid: { display: false, drawTicks: false },
                border: { display: false },
                afterBuildTicks: s => { s.ticks = yTicks.map(v => ({ value: v })); },
                afterFit: s => { s.width = 181; s.paddingTop = 0; s.paddingBottom = 0; },
                ticks: { color: '#000', padding: 29, font: { family: FONT, size: 45 } },
                title: {
                    display: true, text: 'F(Q)', color: '#000',
                    padding: { top: 15, bottom: 0 },
                    font: { family: FONT, size: 45 }
                }
            }
        }
    }
});
</script>
</body>
</html>
